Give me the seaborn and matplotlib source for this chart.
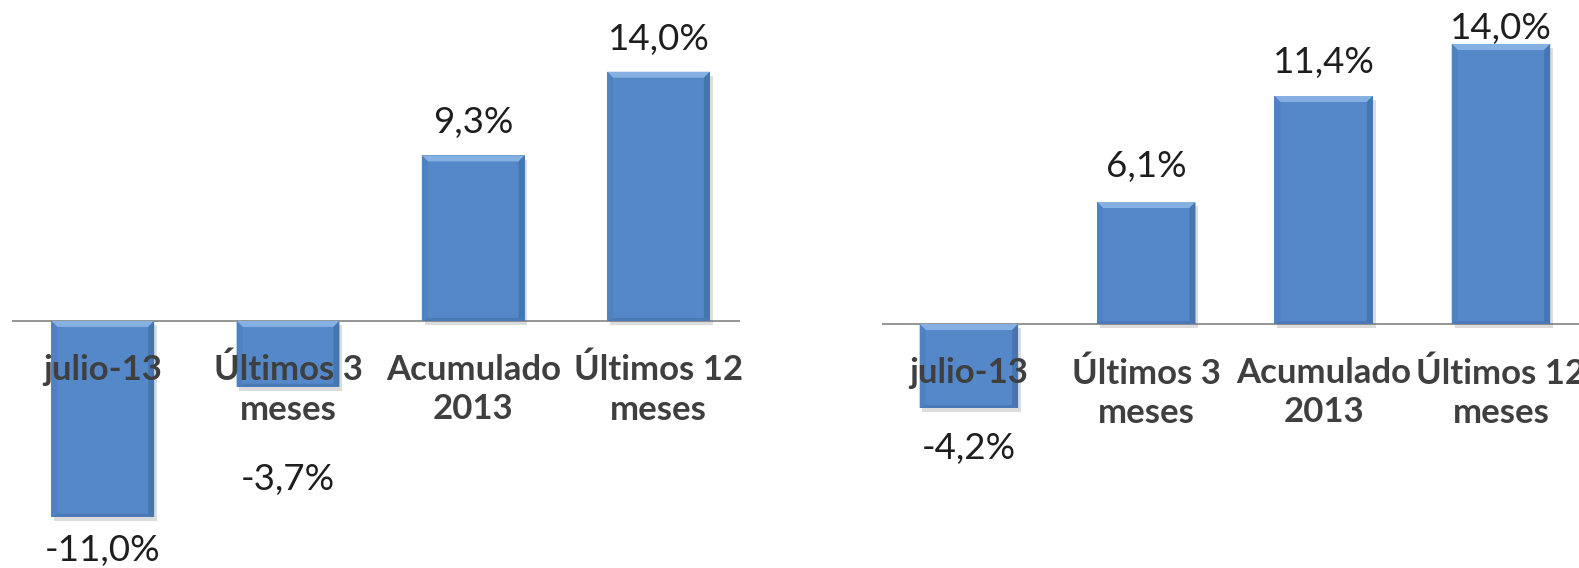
import matplotlib
matplotlib.use("Agg")
import matplotlib.pyplot as plt
import matplotlib.patheffects as pe
from matplotlib.patches import Polygon
import seaborn as sns
import pandas as pd

categories = ["julio-13", "Últimos 3\nmeses", "Acumulado\n2013", "Últimos 12\nmeses"]
values_left = [-11.0, -3.7, 9.3, 14.0]
values_right = [-4.2, 6.1, 11.4, 14.0]

# label distance from bar end, pixels (hand-tuned to match the original)
pads_left = [34, 93, 33, 32]
pads_right = [40, 36, 33, 16]

FACE = "#5588c8"
TICK_COLOR = "#3f3f3f"
VALUE_COLOR = "#1e1e1e"


def bevel(ax, bar):
    # soft light top / darker sides to mimic the Excel bevel look
    inv = ax.transData.inverted()
    x0, y0 = bar.get_x(), bar.get_y()
    x1, y1 = x0 + bar.get_width(), y0 + bar.get_height()
    ylo, yhi = min(y0, y1), max(y0, y1)
    (px0, py0), (px1, py1) = ax.transData.transform([(x0, ylo), (x1, yhi)])
    b = 6
    (ix0, iy0), (ix1, iy1) = inv.transform([(px0 + b, py0 + 3), (px1 - b, py1 - b)])
    if iy1 < iy0:
        iy0 = iy1 = (ylo + yhi) / 2
    pieces = [
        ([(x0, yhi), (x1, yhi), (ix1, iy1), (ix0, iy1)], "#86afe2"),
        ([(x0, ylo), (x1, ylo), (ix1, iy0), (ix0, iy0)], "#4a79b6"),
        ([(x0, ylo), (x0, yhi), (ix0, iy1), (ix0, iy0)], "#4f82c0"),
        ([(x1, ylo), (x1, yhi), (ix1, iy1), (ix1, iy0)], "#4775b0"),
    ]
    for pts, col in pieces:
        ax.add_patch(Polygon(pts, closed=True, facecolor=col, edgecolor="none", zorder=2.1))


def panel(ax, values, pads, ylim):
    df = pd.DataFrame({"cat": categories, "val": values})
    sns.barplot(data=df, x="cat", y="val", ax=ax, color=FACE, width=0.555,
                saturation=1, edgecolor="none", zorder=2)
    ax.set_xlim(-0.49, 3.44)
    ax.set_ylim(*ylim)
    ax.axhline(0, color="#8c8c8c", lw=1.3, zorder=1.5)
    for bar in ax.patches[:len(values)]:
        bar.set_path_effects([pe.SimplePatchShadow(offset=(2, -3), shadow_rgbFace="#777777", alpha=0.25),
                              pe.Normal()])
    for bar in list(ax.patches[:len(values)]):
        bevel(ax, bar)
    for i, (v, p) in enumerate(zip(values, pads)):
        s = f"{v:.1f}%".replace(".", ",")
        ax.annotate(s, xy=(i, v), xytext=(0, p if v > 0 else -p), textcoords="offset pixels",
                    ha="center", va="center", fontsize=26.5, color=VALUE_COLOR,
                    family=["Lato", "DejaVu Sans"], annotation_clip=False)
        ax.annotate(categories[i], xy=(i, 0), xytext=(0, -33), textcoords="offset pixels",
                    ha="center", va="top", fontsize=25, fontweight="bold", color=TICK_COLOR,
                    family=["Lato", "DejaVu Sans"], linespacing=1.28, zorder=5)
    ax.set_xticks([])
    ax.set_yticks([])
    ax.set_xlabel("")
    ax.set_ylabel("")
    for s in ax.spines.values():
        s.set_visible(False)
    ax.patch.set_alpha(0)


sns.set_style("white")
fig = plt.figure(figsize=(15.79, 5.68), dpi=100)
ax1 = fig.add_axes([12 / 1579, 0, 728 / 1579, 1])
ax2 = fig.add_axes([882 / 1579, 0, 697 / 1579, 1])
panel(ax1, values_left, pads_left, (-13.88, 18.03))
panel(ax2, values_right, pads_right, (-12.2, 16.2))

fig.savefig("out.png", dpi=100)
